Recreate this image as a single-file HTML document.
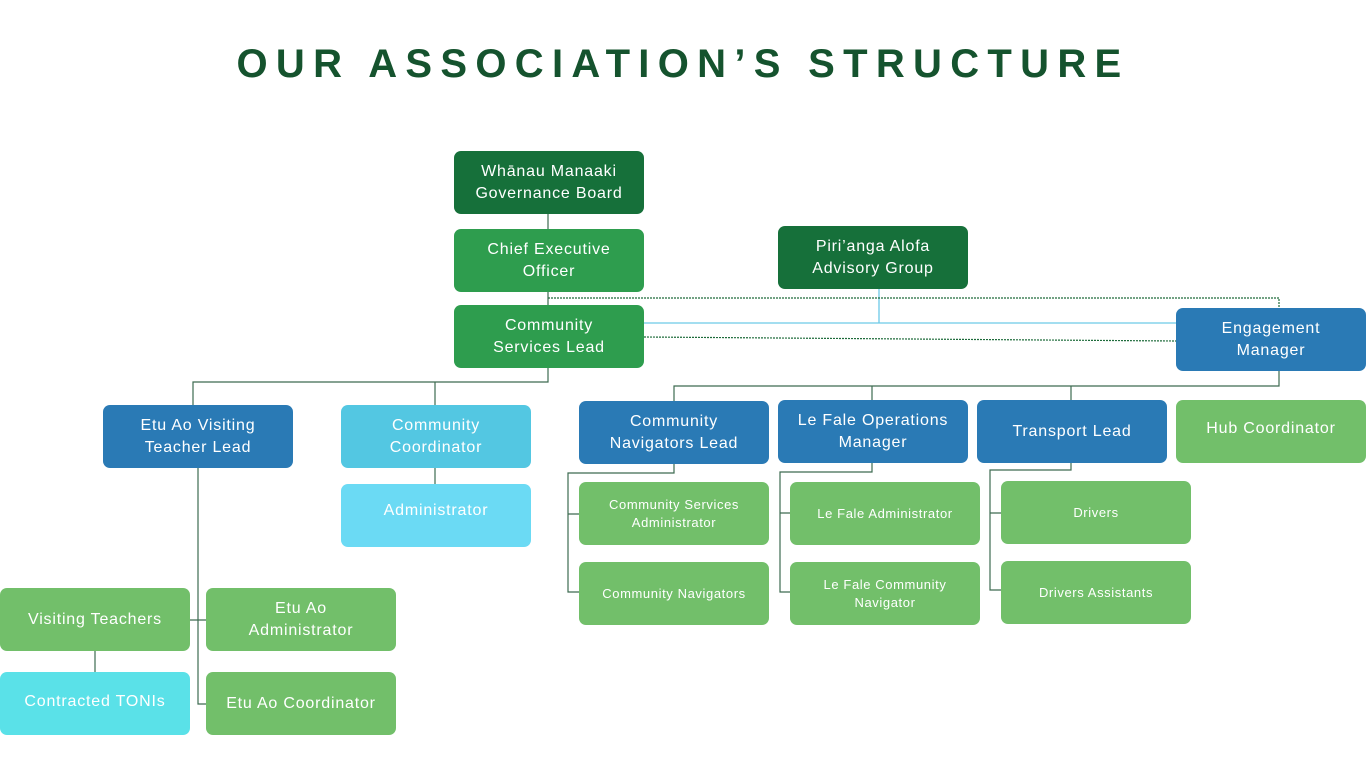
<!DOCTYPE html>
<html><head><meta charset="utf-8"><style>
body{margin:0;width:1366px;height:768px;background:#fff;position:relative;overflow:hidden;font-family:"Liberation Sans",sans-serif}
h1{position:absolute;top:42px;left:0;width:1366px;margin:0;text-align:center;font-size:40px;font-weight:bold;letter-spacing:8.3px;color:#15532e}
.b{position:absolute;width:190px;height:63px;border-radius:7px;color:#fff;display:flex;align-items:center;justify-content:center;text-align:center;font-size:16px;line-height:22px;letter-spacing:0.8px;box-sizing:border-box;padding:0 6px}
.s{font-size:13px;line-height:18px;letter-spacing:0.6px}
.dg{background:#16703a}.mg{background:#2e9d4e}.lg{background:#72bf6a}.bl{background:#2a7ab5}.lb{background:#53c7e2}.pb{background:#6bdaf4}.cy{background:#5ae1e8}
svg{position:absolute;left:0;top:0}
</style></head><body>
<h1>OUR ASSOCIATION’S STRUCTURE</h1>
<svg width="1366" height="768">
<g stroke="#3d6b50" stroke-width="1.2" fill="none">
<path d="M548 214V229M548 292V305M548 368V382H193V405M435 382V405M435 468V484"/>
<path d="M198 468V704H206M190 620H206M95 651V672"/>
<path d="M1279 371V386H674V401M872 386V400M1071 386V400"/>
<path d="M674 463V473H568V592H579M568 514H579"/>
<path d="M872 463V472H780V592H790M780 513H790"/>
<path d="M1071 463V470H990V590H1001M990 513H1001"/>
</g>
<path d="M879 289V323M644 323H1176" stroke="#6cc9e8" stroke-width="1.3" fill="none"/>
<path d="M548 298H1279V308M644 337L1176 341" stroke="#1d6b3a" stroke-width="1.2" stroke-dasharray="2 1" fill="none"/>
</svg>
<div class="b dg" style="left:454px;top:151px">Whānau Manaaki<br>Governance Board</div>
<div class="b mg" style="left:454px;top:229px">Chief Executive<br>Officer</div>
<div class="b mg" style="left:454px;top:305px">Community<br>Services Lead</div>
<div class="b dg" style="left:778px;top:226px">Piri’anga Alofa<br>Advisory Group</div>
<div class="b bl" style="left:1176px;top:308px">Engagement<br>Manager</div>
<div class="b bl" style="left:103px;top:405px">Etu Ao Visiting<br>Teacher Lead</div>
<div class="b lb" style="left:341px;top:405px">Community<br>Coordinator</div>
<div class="b pb" style="left:341px;top:484px;padding-bottom:10px">Administrator</div>
<div class="b bl" style="left:579px;top:401px">Community<br>Navigators Lead</div>
<div class="b bl" style="left:778px;top:400px">Le Fale Operations<br>Manager</div>
<div class="b bl" style="left:977px;top:400px">Transport Lead</div>
<div class="b lg" style="left:1176px;top:400px;padding-bottom:6px">Hub Coordinator</div>
<div class="b lg s" style="left:579px;top:482px">Community Services<br>Administrator</div>
<div class="b lg s" style="left:579px;top:562px">Community Navigators</div>
<div class="b lg s" style="left:790px;top:482px">Le Fale Administrator</div>
<div class="b lg s" style="left:790px;top:562px">Le Fale Community<br>Navigator</div>
<div class="b lg s" style="left:1001px;top:481px">Drivers</div>
<div class="b lg s" style="left:1001px;top:561px">Drivers Assistants</div>
<div class="b lg" style="left:0px;top:588px">Visiting Teachers</div>
<div class="b lg" style="left:206px;top:588px">Etu Ao<br>Administrator</div>
<div class="b cy" style="left:0px;top:672px;padding-bottom:4px">Contracted TONIs</div>
<div class="b lg" style="left:206px;top:672px">Etu Ao Coordinator</div>
</body></html>
